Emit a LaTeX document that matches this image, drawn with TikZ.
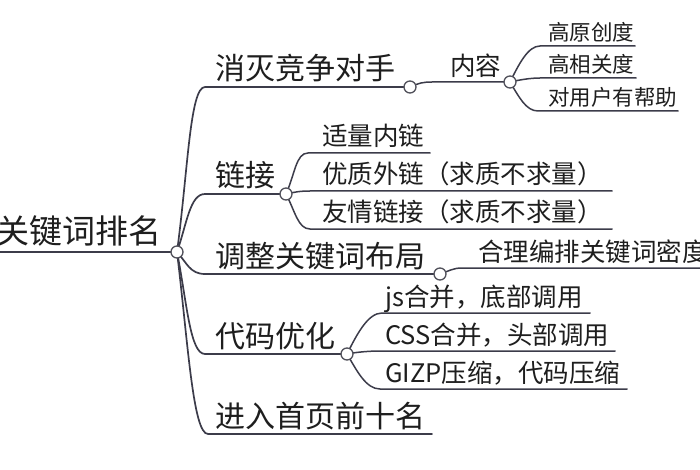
\documentclass[tikz,border=0pt]{standalone}
\usepackage{fontspec}
\newfontfamily\cjk{Noto Sans CJK SC}
\definecolor{linec}{HTML}{3C3C4A}
\definecolor{dotc}{HTML}{50505A}
\definecolor{txt}{HTML}{1E1E1E}
\begin{document}
\begin{tikzpicture}[x=1pt,y=-1pt,
  lnk/.style={draw=linec, line width=1.7pt, line cap=round},
  lnks/.style={draw=linec, line width=1.5pt, line cap=round},
  dot/.style={circle, draw=dotc, fill=white, line width=1.3pt, minimum size=12pt, inner sep=0pt},
  t0/.style={anchor=base east, inner sep=0pt, text=txt, font=\cjk\fontsize{33}{33}\selectfont},
  t1/.style={anchor=base west, inner sep=0pt, text=txt, font=\cjk\fontsize{30}{30}\selectfont},
  t2/.style={anchor=base west, inner sep=0pt, text=txt, font=\cjk\fontsize{25.5}{26}\selectfont},
  t3/.style={anchor=base west, inner sep=0pt, text=txt, font=\cjk\fontsize{21.5}{22}\selectfont}]
\useasboundingbox (0,0) rectangle (700,470);
\clip (0,0) rectangle (700,470);
\fill[white] (0,0) rectangle (700,470);

% circle centres
\coordinate (pr) at (177,252);
\coordinate (p1) at (410,87);
\coordinate (p2) at (286,194);
\coordinate (p3) at (440,274);
\coordinate (p4) at (347,354);
\coordinate (p5) at (510,82);

% underline start / free ends
\coordinate (rootL) at (-5,252);
\coordinate (a1) at (205,87);
\coordinate (a2) at (205,194);
\coordinate (a3) at (205,274);
\coordinate (a4) at (205,354);
\coordinate (a5) at (208,434); \coordinate (a5e) at (432,434);
\coordinate (b1) at (432,82);
\coordinate (c1) at (540,46);  \coordinate (c1e) at (635,46);
\coordinate (c2) at (540,78);  \coordinate (c2e) at (636,78);
\coordinate (c3) at (538,111); \coordinate (c3e) at (678,111);
\coordinate (d1) at (308,153); \coordinate (d1e) at (430,153);
\coordinate (d2) at (310,191); \coordinate (d2e) at (612,191);
\coordinate (d3) at (310,229); \coordinate (d3e) at (612,229);
\coordinate (e1) at (462,268); \coordinate (e1e) at (710,268);
\coordinate (f1) at (382,313); \coordinate (f1e) at (590,313);
\coordinate (f2) at (380,351); \coordinate (f2e) at (615,351);
\coordinate (f3) at (380,389); \coordinate (f3e) at (627,389);

% texts
\node[t0] (root) at (162,243) {关键词排名};
\node[t1] (n1) at (215,80) {消灭竞争对手};
\node[t1] (n2) at (215,187) {链接};
\node[t1] (n3) at (215,267) {调整关键词布局};
\node[t1] (n4) at (215,347) {代码优化};
\node[t1] (n5) at (215,427) {进入首页前十名};
\node[t2] (m1) at (450,76) {内容};
\node[t3] (k1) at (548,41) {高原创度};
\node[t3] (k2) at (548,73) {高相关度};
\node[t3] (k3) at (548,106) {对用户有帮助};
\node[t2] (q1) at (322,146) {适量内链};
\node[t2] (q2) at (322,184) {优质外链（求质不求量）};
\node[t2] (q3) at (322,222) {友情链接（求质不求量）};
\node[t2] (s1) at (478,261) {合理编排关键词密度};
\node[t2] (g1) at (385,306) {js合并，底部调用};
\node[t2] (g2) at (385,344) {CSS合并，头部调用};
\node[t2] (g3) at (385,382) {GIZP压缩，代码压缩};

% connectors
\draw[lnk] (rootL) -- (pr);
\draw[lnk] (pr) .. controls +(11,-82) and +(-15,0) .. (a1) -- (p1);
\draw[lnk] (pr) .. controls +(10,-29) and +(-15,0) .. (a2) -- (p2);
\draw[lnk] (pr) .. controls +(10,11) and +(-15,0) .. (a3) -- (p3);
\draw[lnk] (pr) .. controls +(10,51) and +(-15,0) .. (a4) -- (p4);
\draw[lnk] (pr) .. controls +(11,91) and +(-15,0) .. (a5) -- (a5e);
\draw[lnks] (p1) .. controls +(9,-4) and +(-9,0) .. (b1) -- (p5);
\draw[lnks] (p5) .. controls +(9,-18) and +(-12,0) .. (c1) -- (c1e);
\draw[lnks] (p5) .. controls +(9,-2) and +(-10,0) .. (c2) -- (c2e);
\draw[lnks] (p5) .. controls +(9,15) and +(-12,0) .. (c3) -- (c3e);
\draw[lnks] (p2) .. controls +(9,-20) and +(-12,0) .. (d1) -- (d1e);
\draw[lnks] (p2) .. controls +(9,-2) and +(-10,0) .. (d2) -- (d2e);
\draw[lnks] (p2) .. controls +(9,17) and +(-12,0) .. (d3) -- (d3e);
\draw[lnks] (p3) .. controls +(9,-3) and +(-9,0) .. (e1) -- (e1e);
\draw[lnks] (p4) .. controls +(10,-20) and +(-14,0) .. (f1) -- (f1e);
\draw[lnks] (p4) .. controls +(10,-2) and +(-10,0) .. (f2) -- (f2e);
\draw[lnks] (p4) .. controls +(10,17) and +(-14,0) .. (f3) -- (f3e);

% junction circles
\node[dot] (dr) at (pr) {};
\node[dot] (d1c) at (p1) {};
\node[dot] (d2c) at (p2) {};
\node[dot] (d3c) at (p3) {};
\node[dot] (d4c) at (p4) {};
\node[dot] (d5c) at (p5) {};
\end{tikzpicture}
\end{document}
